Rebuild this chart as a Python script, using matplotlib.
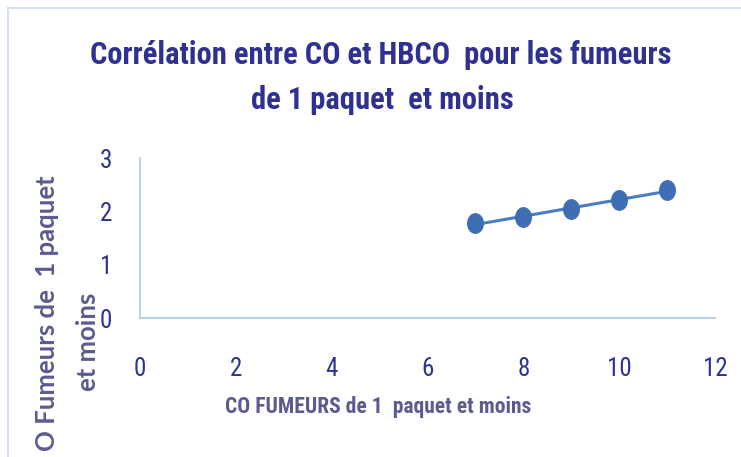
import matplotlib
matplotlib.use("Agg")
import matplotlib.pyplot as plt
from matplotlib.lines import Line2D
from matplotlib.path import Path
import numpy as np

co_values = [7, 8, 9, 10, 11]
hbco_values = [1.78, 1.89, 2.04, 2.21, 2.40]
x_ticks = [0, 2, 4, 6, 8, 10, 12]
y_ticks = [0, 1, 2, 3]

title_l1 = "Corrélation entre CO et HBCO  pour les fumeurs"
title_l2 = "de 1 paquet  et moins"
xlabel = "CO FUMEURS de 1  paquet et moins"
ylabel_l1 = "O Fumeurs de  1 paquet"
ylabel_l2 = "et moins"

font = "Roboto Condensed"
yfont = "Lato"

W, H = 741, 457
fig = plt.figure(figsize=(W/100, H/100), dpi=100)

ax = fig.add_axes([140/W, 1-318/H, 575/W, 160/H])
t = np.linspace(0, 2*np.pi, 41)
ellipse = Path(np.column_stack([0.8*np.cos(t), np.sin(t)]), closed=True)
pt_color = "#3F6DB3"
ax.plot(co_values, hbco_values, linestyle='none', marker=ellipse, color=pt_color,
        markersize=14, zorder=3)
slope, intercept = np.polyfit(co_values, hbco_values, 1)
xs = np.array([min(co_values), max(co_values)])
ax.plot(xs, slope*xs+intercept, '-', color="#4A7CC4", lw=2.2, zorder=2)

ax.set_xlim(0, 12)
ax.set_ylim(0, 3)
ax.set_xticks(x_ticks)
ax.set_yticks(y_ticks)
tick_color = "#2E3192"
ax.tick_params(axis='both', length=0, labelsize=18, colors=tick_color)
ax.tick_params(axis='x', pad=28)
ax.tick_params(axis='y', pad=20)
for lab in ax.get_xticklabels() + ax.get_yticklabels():
    lab.set_fontfamily(font)
for s in ['top', 'right']:
    ax.spines[s].set_visible(False)
for s in ['left', 'bottom']:
    ax.spines[s].set_color("#A9C8EA")
    ax.spines[s].set_linewidth(1.2)

title_color = "#2E3192"
fig.text(381/W, 1-55/H, title_l1, ha='center', va='center', fontsize=22,
         fontweight='bold', color=title_color, family=font)
fig.text(382/W, 1-100/H, title_l2, ha='center', va='center', fontsize=22,
         fontweight='bold', color=title_color, family=font)

label_color = "#5B5B90"
fig.text(378/W, 1-407/H, xlabel, ha='center', va='center', fontsize=15.5,
         fontweight='bold', color=label_color, family=font)
fig.text(47/W, 1-175/H, ylabel_l1, ha='center', va='top', rotation=90, fontsize=18.5,
         fontweight='bold', color=label_color, family=yfont)
fig.text(88/W, 1-342/H, ylabel_l2, ha='center', va='center', rotation=90, fontsize=18.5,
         fontweight='bold', color=label_color, family=yfont)

border = "#D6E2F2"
fig.add_artist(Line2D([8/W, 8/W], [0, 1-8/H], color=border, lw=1.5))
fig.add_artist(Line2D([8/W, 1], [1-8/H, 1-8/H], color=border, lw=1.5))

fig.savefig("out.png", dpi=100)
